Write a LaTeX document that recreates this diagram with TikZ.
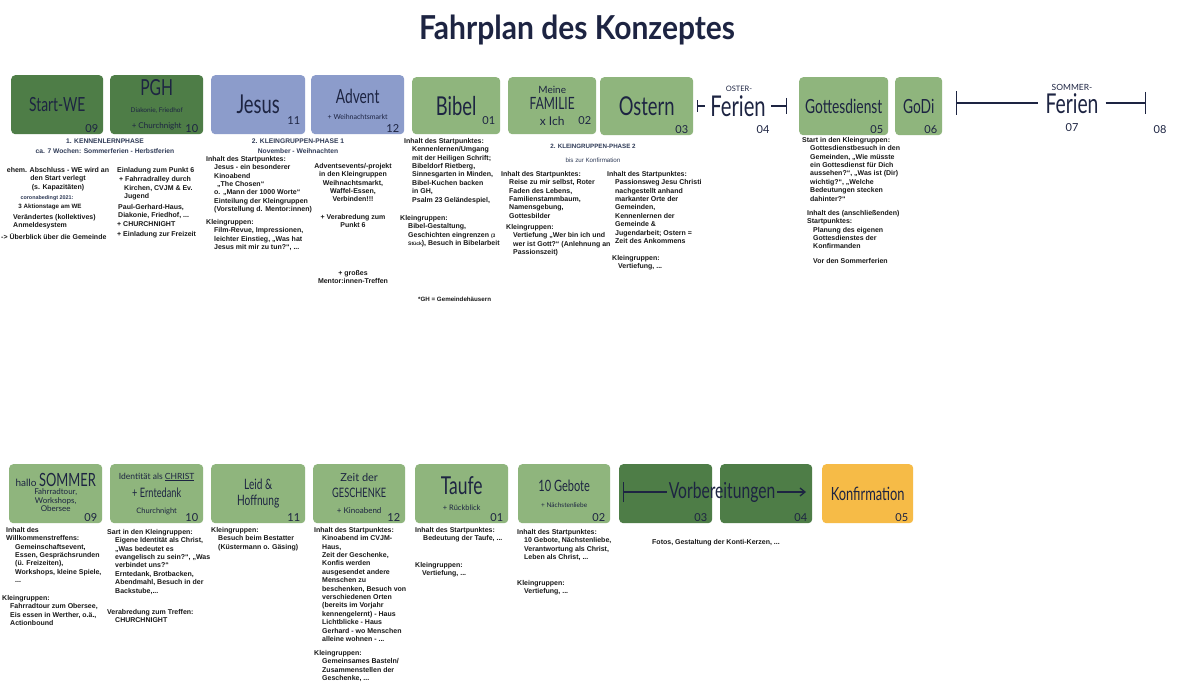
\documentclass[tikz,border=0pt]{standalone}
\usepackage{fontspec}
\usepackage{xcolor}
\usepackage{graphicx}
\usetikzlibrary{positioning}
\usetikzlibrary{arrows.meta}

\newfontfamily\handfont{Lato}
\newfontfamily\bodyfont{Liberation Sans}

\definecolor{ink}{HTML}{1D2442}
\definecolor{darkgreen}{HTML}{4E7D47}
\definecolor{lightgreen}{HTML}{8FB57D}
\definecolor{lightblue}{HTML}{8C9CCB}
\definecolor{konfiorange}{HTML}{F6BB47}
\definecolor{phaseblue}{HTML}{2F3B57}

\newcommand\ein{\hspace*{8pt}}
\newcommand\hoch[1]{\scalebox{0.92}[1.3]{#1}}

\begin{document}
\begin{tikzpicture}[x=1pt, y=-1pt,
node distance = 5pt,
tile/.style={rectangle, rounded corners=4pt, anchor=north west, minimum width=93pt, minimum height=59pt, inner sep=0pt, align=center, text=ink, font=\handfont\fontsize{15}{16}\selectfont},
darktile/.style={tile, fill=darkgreen},
greentile/.style={tile, fill=lightgreen},
bluetile/.style={tile, fill=lightblue},
konfitile/.style={tile, fill=konfiorange},
weeklabel/.style={anchor=south east, xshift=-5pt, yshift=2pt, inner sep=0pt, text=ink, font=\handfont\fontsize{11}{11}\selectfont},
week/.style={label={[weeklabel]south east:#1}},
highweek/.style={label={[weeklabel, yshift=8pt]south east:#1}},
weeknum/.style={text=ink, font=\handfont\fontsize{11}{11}\selectfont},
info/.style={anchor=north west, align=left, inner sep=0pt, text=black!90, font=\bodyfont\bfseries\fontsize{7}{8.4}\selectfont},
phase/.style={align=center, inner sep=0pt, text=phaseblue, font=\bodyfont\bfseries\fontsize{6.7}{10}\selectfont},
ferien/.style={text=ink, inner sep=5pt, font=\handfont\fontsize{22}{22}\selectfont},
small/.style={text=ink, inner sep=0pt, font=\handfont\fontsize{7.5}{8}\selectfont},
ferienline/.style={draw=ink, line width=1.3pt}]

\useasboundingbox (0,0) rectangle (1180,684);
\fill[white] (0,0) rectangle (1180,684);

\node[text=ink, font=\handfont\bfseries\fontsize{30}{30}\selectfont] (title) at (577,30) {\scalebox{1}[1.1]{Fahrplan des Konzeptes}};

% erste Reihe
\node[darktile, week=09, minimum width=92pt] (startwe) at (11,75) {\hoch{Start-WE}};
\node[darktile, week=10] (pgh) at (110,75) {\fontsize{17}{17}\selectfont\hoch{PGH}\\[1pt]\fontsize{6.5}{8}\selectfont Diakonie, Friedhof\\\fontsize{8}{11}\selectfont + Churchnight};
\node[bluetile, highweek=11, minimum width=94pt] (jesus) at (211,75) {\fontsize{20}{20}\selectfont\hoch{Jesus}};
\node[bluetile, week=12] (advent) at (311,75) {\hoch{Advent}\\\fontsize{7}{10}\selectfont + Weihnachtsmarkt};
\node[greentile, highweek=01, minimum width=88pt, minimum height=57pt] (bibel) at (412,77) {\fontsize{20}{20}\selectfont\hoch{Bibel}};
\node[greentile, highweek=02, minimum width=88pt, minimum height=57pt] (familie) at (508,77) {\fontsize{10}{11}\selectfont Meine\\\fontsize{13}{15}\selectfont\hoch{FAMILIE}\\\fontsize{12}{14}\selectfont x Ich};
\node[greentile, week=03, minimum height=58pt] (ostern) at (600,77) {\fontsize{20}{20}\selectfont\hoch{Ostern}};
\node[greentile, week=05, minimum width=89pt, minimum height=58pt] (gottesdienst) at (799,77) {\hoch{Gottesdienst}};
\node[greentile, week=06, minimum width=47pt, minimum height=58pt] (godi) at (895,77) {\hoch{GoDi}};

% Osterferien
\node[ferien] (osterferien) at (738,106) {\hoch{Ferien}};
\node[small] (osterlabel) at (739,89) {OSTER-};
\node[weeknum] (woche04) at (763,130) {04};
\coordinate (osterstart) at (697,106);
\coordinate (osterende) at (787,106);
\draw[ferienline, {Bar[width=12pt]}-] (osterstart) -- (osterferien.west);
\draw[ferienline, -{Bar[width=16pt]}] (osterferien.east) -- (osterende);

% Sommerferien
\node[ferien, font=\handfont\fontsize{21}{21}\selectfont, inner sep=7pt] (sommerferien) at (1072,104) {\hoch{Ferien}};
\node[small, font=\handfont\fontsize{8.5}{9}\selectfont] (sommerlabel) at (1072,87) {SOMMER-};
\node[weeknum] (woche07) at (1072,128) {07};
\node[weeknum] (woche08) at (1160,130) {08};
\coordinate (sommerstart) at (956,103);
\coordinate (sommerende) at (1146,103);
\draw[ferienline, {Bar[width=24pt]}-] (sommerstart) -- (sommerferien.west |- sommerstart);
\draw[ferienline, -{Bar[width=22pt]}] (sommerferien.east |- sommerende) -- (sommerende);

% Phasen
\node[phase] (phase1) at (105,146) {1. KENNENLERNPHASE\\ca. 7 Wochen: Sommerferien - Herbstferien};
\node[phase] (phase2) at (298,146.5) {2. KLEINGRUPPEN-PHASE 1\\November - Weihnachten};
\node[phase, font=\bodyfont\bfseries\fontsize{6.2}{8}\selectfont] (phase3) at (593,146) {2. KLEINGRUPPEN-PHASE 2};
\node[phase, font=\bodyfont\fontsize{6.2}{8}\selectfont, below=9pt of phase3] (phase3b) {bis zur Konfirmation};

% Texte erste Reihe
\node[info, anchor=north, align=center] (weinfo) at (58,167) {ehem. Abschluss - WE wird an\\den Start verlegt\\(s. Kapazitäten)};
\node[info, anchor=north, text=phaseblue, font=\bodyfont\bfseries\fontsize{5.4}{7}\selectfont] (corona) at (47,195) {coronabedingt 2021:};
\node[info, anchor=north, font=\bodyfont\bfseries\fontsize{6.2}{8}\selectfont] (aktion) at (50,203.5) {3 Aktionstage am WE};
\node[info] (anmeldung) at (13,214) {Verändertes (kollektives)\\Anmeldesystem};
\node[info] (ueberblick) at (1,233) {-> Überblick über die Gemeinde};

\node[info] (pghinfo) at (117,167) {Einladung zum Punkt 6\\[1pt]
\hspace*{2pt}+ Fahrradralley durch\\
\hspace*{7pt}Kirchen, CVJM \& Ev.\\
\hspace*{7pt}Jugend\\[2.5pt]
\hspace*{1pt}Paul-Gerhard-Haus,\\
\hspace*{1pt}Diakonie, Friedhof, ...\\
+ CHURCHNIGHT\\[2pt]
+ Einladung zur Freizeit};

\node[info] (jesusinfo) at (206,156) {Inhalt des Startpunktes:\\
\ein Jesus - ein besonderer\\
\ein Kinoabend\\
\ein\hspace*{3pt}„The Chosen“\\
\ein o. „Mann der 1000 Worte“\\
\ein Einteilung der Kleingruppen\\
\ein (Vorstellung d. Mentor:innen)};
\node[info] (jesuskg) at (206,219) {Kleingruppen:\\
\ein Film-Revue, Impressionen,\\
\ein leichter Einstieg, „Was hat\\
\ein Jesus mit mir zu tun?“, ...};

\node[info, anchor=north, align=center] (adventinfo) at (353,163) {Adventsevents/-projekt\\in den Kleingruppen\\Weihnachtsmarkt,\\Waffel-Essen,\\Verbinden!!!\\[9pt]+ Verabredung zum\\Punkt 6};
\node[info, anchor=north, align=center] (mentor) at (353,270) {+ großes\\Mentor:innen-Treffen};

\node[info] (bibelinfo) at (404,138) {Inhalt des Startpunktes:\\
\ein Kennenlernen/Umgang\\
\ein mit der Heiligen Schrift;\\
\ein Bibeldorf Rietberg,\\
\ein Sinnesgarten in Minden,\\
\ein Bibel-Kuchen backen\\
\ein in GH,\\
\ein Psalm 23 Geländespiel,};
\node[info] (bibelkg) at (400,215) {Kleingruppen:\\
\ein Bibel-Gestaltung,\\
\ein Geschichten eingrenzen {\fontsize{5}{6}\selectfont(3}\\
\ein{\fontsize{5}{6}\selectfont Stück}), Besuch in Bibelarbeit};
\node[info, font=\bodyfont\bfseries\fontsize{6.2}{8}\selectfont] (ghnote) at (418,297) {*GH = Gemeindehäusern};

\node[info] (familieinfo) at (501,171) {Inhalt des Startpunktes:\\
\ein Reise zu mir selbst, Roter\\
\ein Faden des Lebens,\\
\ein Familienstammbaum,\\
\ein Namensgebung,\\
\ein Gottesbilder};
\node[info] (familiekg) at (506,224) {Kleingruppen:\\
\hspace*{7pt}Vertiefung „Wer bin ich und\\
\hspace*{7pt}wer ist Gott?“ (Anlehnung an\\
\hspace*{7pt}Passionszeit)};

\node[info] (osterninfo) at (607,171) {Inhalt des Startpunktes:\\
\ein Passionsweg Jesu Christi\\
\ein nachgestellt anhand\\
\ein markanter Orte der\\
\ein Gemeinden,\\
\ein Kennenlernen der\\
\ein Gemeinde \&\\
\ein Jugendarbeit; Ostern =\\
\ein Zeit des Ankommens};
\node[info] (osternkg) at (612,255) {Kleingruppen:\\
\hspace*{6pt}Vertiefung, ...};

\node[info] (godiinfo) at (802,137) {Start in den Kleingruppen:\\
\ein Gottesdienstbesuch in den\\
\ein Gemeinden, „Wie müsste\\
\ein ein Gottesdienst für Dich\\
\ein aussehen?“, „Was ist (Dir)\\
\ein wichtig?“, „Welche\\
\ein Bedeutungen stecken\\
\ein dahinter?“};
\node[info] (godistart) at (807,210) {Inhalt des (anschließenden)\\
Startpunktes:\\
\hspace*{6pt}Planung des eigenen\\
\hspace*{6pt}Gottesdienstes der\\
\hspace*{6pt}Konfirmanden\\[6pt]
\hspace*{6pt}Vor den Sommerferien};

% zweite Reihe
\node[greentile, week=09] (hallo) at (9,464) {\fontsize{10}{12}\selectfont hallo \fontsize{14}{15}\selectfont\hoch{SOMMER}\\[1pt]
\fontsize{8}{8.5}\selectfont\begin{tabular}{@{}c@{}}Fahrradtour,\\Workshops,\\Obersee\end{tabular}};
\node[greentile, week=10] (identitaet) at (110,464) {\fontsize{8.5}{10}\selectfont Identität als \underline{CHRIST}\\[2pt]\fontsize{10}{12}\selectfont\hoch{+ Erntedank}\\\fontsize{7.5}{10}\selectfont Churchnight};
\node[greentile, week=11, minimum width=94pt] (leid) at (211,464) {\fontsize{11}{13}\selectfont\hoch{Leid \&}\\\fontsize{11}{15}\selectfont\hoch{Hoffnung}};
\node[greentile, week=12, minimum width=92pt] (zeit) at (313,464) {\fontsize{11}{12}\selectfont Zeit der\\\fontsize{10}{14}\selectfont\hoch{GESCHENKE}\\\fontsize{8}{10}\selectfont + Kinoabend};
\node[greentile, week=01] (taufe) at (415,464) {\fontsize{19}{19}\selectfont\hoch{Taufe}\\\fontsize{7.5}{11}\selectfont + Rückblick};
\node[greentile, week=02, minimum width=92pt] (gebote) at (518,464) {\fontsize{12}{12}\selectfont\hoch{10 Gebote}\\\fontsize{6.5}{8}\selectfont + Nächstenliebe};
\node[darktile, week=03] (vorbereitung1) at (619,464) {};
\node[darktile, week=04, minimum width=92pt] (vorbereitung2) at (720,464) {};
\node[konfitile, week=05, minimum width=91pt] (konfirmation) at (822,464) {\fontsize{14}{14}\selectfont\hoch{Konfirmation}};

% Vorbereitungen ueber beide Felder
\node[ferien, font=\handfont\fontsize{17}{17}\selectfont, inner sep=2pt] (vorbereitungen) at (722,492) {\hoch{Vorbereitungen}};
\coordinate (vorstart) at (623,492);
\coordinate (vorende) at (806,492);
\draw[ferienline, {Bar[width=20pt]}-] (vorstart) -- (vorbereitungen.west);
\draw[ferienline, -{Straight Barb[length=5pt, width=8pt]}] (vorbereitungen.east) -- (vorende);

% Texte zweite Reihe
\node[info] (halloinfo) at (6,527) {Inhalt des\\
Willkommenstreffens:\\
\hspace*{9pt}Gemeinschaftsevent,\\
\hspace*{9pt}Essen, Gesprächsrunden\\
\hspace*{9pt}(ü. Freizeiten),\\
\hspace*{9pt}Workshops, kleine Spiele,\\
\hspace*{9pt}...};
\node[info] (hallokg) at (2,595) {Kleingruppen:\\
\ein Fahrradtour zum Obersee,\\
\ein Eis essen in Werther, o.ä.,\\
\ein Actionbound};

\node[info] (identinfo) at (107,529) {Sart in den Kleingruppen:\\
\ein Eigene Identität als Christ,\\
\ein „Was bedeutet es\\
\ein evangelisch zu sein?“, „Was\\
\ein verbindet uns?“\\
\ein Erntedank, Brotbacken,\\
\ein Abendmahl, Besuch in der\\
\ein Backstube,...};
\node[info] (identtreff) at (107,609) {Verabredung zum Treffen:\\
\ein CHURCHNIGHT};

\node[info] (leidinfo) at (211,527) {Kleingruppen:\\
\hspace*{7pt}Besuch beim Bestatter\\
\hspace*{7pt}(Küstermann o. Gäsing)};

\node[info] (zeitinfo) at (314,527) {Inhalt des Startpunktes:\\
\ein Kinoabend im CVJM-\\
\ein Haus,\\
\ein Zeit der Geschenke,\\
\ein Konfis werden\\
\ein ausgesendet andere\\
\ein Menschen zu\\
\ein beschenken, Besuch von\\
\ein verschiedenen Orten\\
\ein (bereits im Vorjahr\\
\ein kennengelernt) - Haus\\
\ein Lichtblicke - Haus\\
\ein Gerhard - wo Menschen\\
\ein alleine wohnen - ...};
\node[info] (zeitkg) at (314,650) {Kleingruppen:\\
\ein Gemeinsames Basteln/\\
\ein Zusammenstellen der\\
\ein Geschenke, ...};

\node[info] (taufeinfo) at (415,527) {Inhalt des Startpunktes:\\
\ein Bedeutung der Taufe, ...};
\node[info] (taufekg) at (415,562) {Kleingruppen:\\
\hspace*{7pt}Vertiefung, ...};

\node[info] (geboteinfo) at (517,529) {Inhalt des Startpunktes:\\
\hspace*{7pt}10 Gebote, Nächstenliebe,\\
\hspace*{7pt}Verantwortung als Christ,\\
\hspace*{7pt}Leben als Christ, ...};
\node[info] (gebotekg) at (517,580) {Kleingruppen:\\
\hspace*{7pt}Vertiefung, ...};

\node[info] (fotos) at (652,539) {Fotos, Gestaltung der Konti-Kerzen, ...};
\end{tikzpicture}
\end{document}
